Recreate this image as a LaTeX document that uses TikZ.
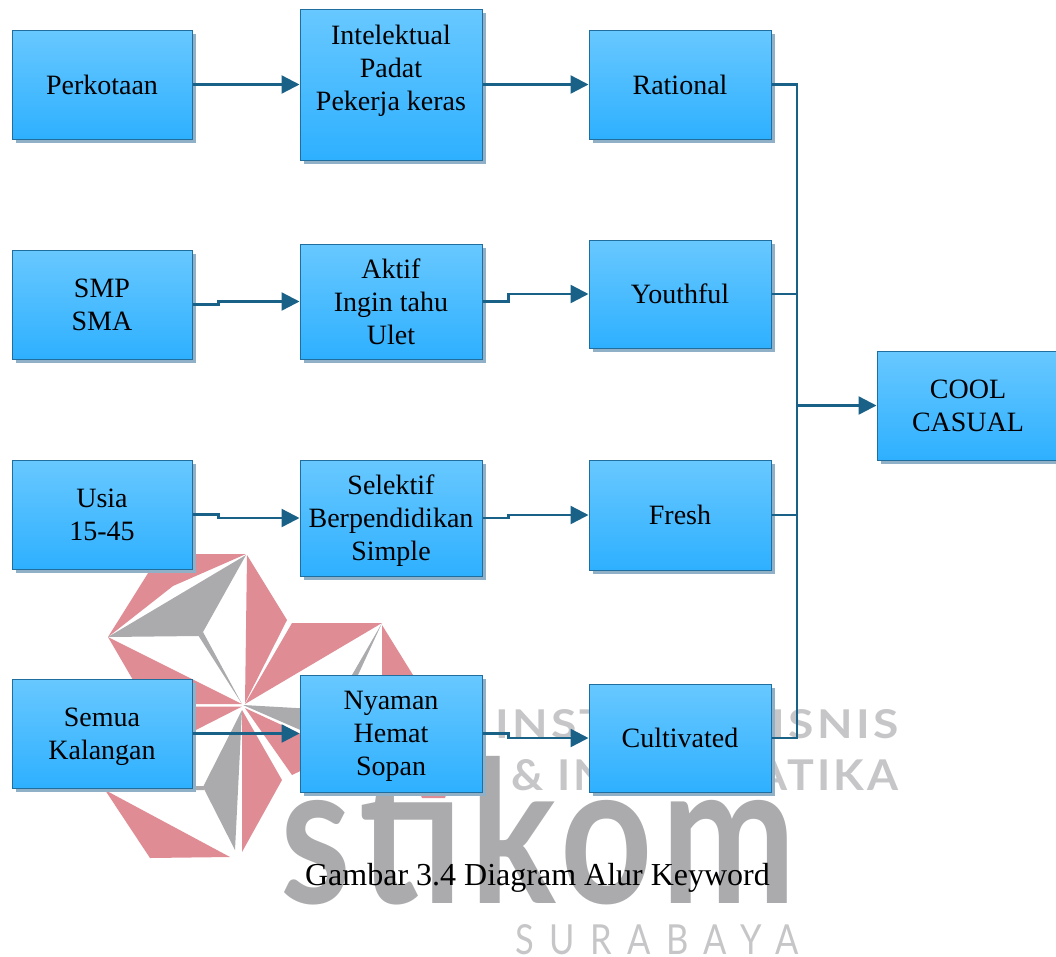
\documentclass[tikz,border=0pt]{standalone}
\usepackage{fontspec}
\usepackage{graphicx}
\setmainfont{Liberation Serif}
\newfontfamily\wmfont[LetterSpace=7]{Lato}
\newfontfamily\wmbig[LetterSpace=5]{Lato}
\newfontfamily\wmsura[LetterSpace=45]{Lato}
\usetikzlibrary{shadows,arrows.meta}
\definecolor{wred}{HTML}{DF8C95}
\definecolor{wgray}{HTML}{ABABAD}
\definecolor{wlight}{HTML}{C6C6C8}
\definecolor{boxtop}{HTML}{68C8FF}
\definecolor{boxbot}{HTML}{2EB0FF}
\definecolor{boxline}{HTML}{1F6E9E}
\definecolor{boxshadow}{HTML}{8FB0C6}
\definecolor{conn}{HTML}{1A6188}
\tikzset{
  flowbox/.style={rectangle,draw=boxline,line width=1pt,top color=boxtop,bottom color=boxbot,
    minimum width=180pt,inner sep=0pt,align=center,text=black,
    font=\fontsize{28}{33}\selectfont,
    general shadow={fill=boxshadow,shadow xshift=4pt,shadow yshift=-4pt}},
  wide/.style={minimum width=182pt},
  nodepth/.style={text depth=0pt},
  connector/.style={draw=conn,line width=2.4pt},
  arrowed/.style={connector,-{Triangle[length=18pt,width=18pt]}},
  wmtext/.style={inner sep=0pt,anchor=south west,text=wlight},
}
\begin{document}
\begin{tikzpicture}[x=1pt,y=-1pt]
\useasboundingbox (0,0) rectangle (1056,956);
\clip (0,0) rectangle (1056,956);
% watermark star
\fill[wred] (108,637) -- (160,554) -- (246,554) -- (173,586) -- cycle;
\fill[wgray] (108,637) -- (246,555) -- (203,632) -- (198,636) -- cycle;
\fill[wgray] (198,635) -- (203,632) -- (242,704) -- cycle;
\fill[wred] (247,555) -- (287,620) -- (245,703) -- cycle;
\fill[wred] (292,623) -- (382,623) -- (245,704) -- cycle;
\fill[wgray] (382,623) -- (358,675) -- (340,690) -- (352,675) -- cycle;
\fill[wred] (382,625) -- (413,675) -- (455,770) -- (445,798) -- (422,798) -- (382,700) -- cycle;
\fill[wred] (108,637) -- (133,680) -- (150,704) -- (242,704) -- cycle;
\fill[wred] (242,706.5) -- (147,706.5) -- (190,733) -- cycle;
\fill[wred] (105,790) -- (150,858) -- (230,857) -- cycle;
\fill[wgray] (242,710) -- (203,787) -- (235,850) -- cycle;
\fill[wgray] (140,786) -- (205,786) -- (204,790) -- (140,790) -- cycle;
\fill[wred] (242,710) -- (282,780) -- (242,852) -- cycle;
\fill[wred] (245,708) -- (340,752) -- (292,775) -- cycle;
\fill[wgray] (243,705) -- (305,708.5) -- (305,732) -- cycle;
% watermark lettering
\node[wmtext,text=wgray] (wmstikom) at (280,905) {\resizebox{515pt}{147pt}{\wmbig\bfseries stikom}};
\node[wmtext] (wminst) at (495,739) {\resizebox{403pt}{29pt}{\wmfont\bfseries INSTITUT BISNIS}};
\node[wmtext] (wminfo) at (511,791) {\resizebox{387pt}{31pt}{\wmfont\bfseries \& INFORMATIKA}};
\node[wmtext] (wmsura) at (515,955) {\resizebox{283pt}{30pt}{\wmsura SURABAYA}};
% boxes
\node[flowbox,minimum height=109pt] (perkotaan) at (102,84.5) {Perkotaan};
\node[flowbox,wide,minimum height=151pt] (intelektual) at (391,84.5) {Intelektual\\Padat\\Pekerja keras\\~};
\node[flowbox,wide,minimum height=109pt] (rational) at (680,84.5) {Rational};
\node[flowbox,minimum height=109pt] (smp) at (102,304.5) {SMP\\SMA};
\node[flowbox,wide,minimum height=115pt] (aktif) at (391,301.5) {Aktif\\Ingin tahu\\Ulet};
\node[flowbox,wide,minimum height=108pt] (youthful) at (680,294) {Youthful};
\node[flowbox,minimum height=109pt] (usia) at (102,514.5) {Usia\\15-45};
\node[flowbox,wide,nodepth,minimum height=116pt] (selektif) at (391,518) {Selektif\\Berpendidikan\\Simple};
\node[flowbox,wide,minimum height=110pt] (fresh) at (680,515) {Fresh};
\node[flowbox,nodepth,minimum height=109pt] (semua) at (102,733.5) {Semua\\Kalangan};
\node[flowbox,wide,nodepth,minimum height=117pt] (nyaman) at (391,733.5) {Nyaman\\Hemat\\Sopan};
\node[flowbox,wide,minimum height=108pt] (cultivated) at (680,738) {Cultivated};
\node[flowbox,wide,minimum height=109pt] (cool) at (968,405.5) {COOL\\CASUAL};
\coordinate (bus) at (797,405.5);
% connectors
\draw[arrowed] (perkotaan.east) -- (intelektual.west);
\draw[arrowed] (intelektual.east) -- (rational.west);
\draw[arrowed] (smp.east) -- ++(26,0) |- (aktif.west);
\draw[arrowed] (aktif.east) -- ++(26,0) |- (youthful.west);
\draw[arrowed] (usia.east) -- ++(26,0) |- (selektif.west);
\draw[arrowed] (selektif.east) -- ++(26,0) |- (fresh.west);
\draw[arrowed] (semua.east) -- (nyaman.west);
\draw[arrowed] (nyaman.east) -- ++(26,0) |- (cultivated.west);
\draw[connector] (rational.east) -| (bus);
\draw[connector] (cultivated.east) -| (bus);
\draw[connector] (youthful.east) -- (youthful.east -| bus);
\draw[connector] (fresh.east) -- (fresh.east -| bus);
\draw[arrowed] (bus) -- (cool.west);
% caption
\node[inner sep=0pt,font=\fontsize{32}{36}\selectfont] (caption) at (537.5,878) {Gambar 3.4 Diagram Alur Keyword};
\end{tikzpicture}
\end{document}
